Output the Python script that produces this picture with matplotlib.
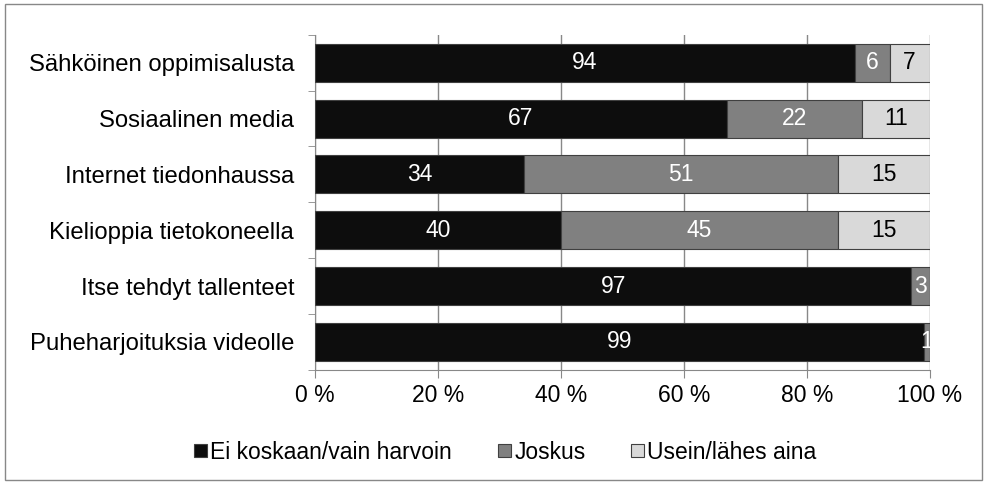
import matplotlib
matplotlib.use('Agg')
import numpy as np
import matplotlib.pyplot as plt
from matplotlib.patches import Rectangle
from matplotlib.ticker import FixedLocator

plt.rcParams['font.family'] = ['Liberation Sans', 'DejaVu Sans']

categories = ['Sähköinen oppimisalusta', 'Sosiaalinen media', 'Internet tiedonhaussa',
              'Kielioppia tietokoneella', 'Itse tehdyt tallenteet', 'Puheharjoituksia videolle']
series_names = ['Ei koskaan/vain harvoin', 'Joskus', 'Usein/lähes aina']
never = [94, 67, 34, 40, 97, 99]
sometimes = [6, 22, 51, 45, 3, 1]
often = [7, 11, 15, 15, 0, 0]

colors = ['#0d0d0d', '#808080', '#d9d9d9']
text_colors = ['white', 'white', 'black']
fs = 16.5

fig = plt.figure(figsize=(9.87, 4.84), dpi=100)
ax = fig.add_axes([0.319, 0.236, 0.623, 0.692])

data = np.array([never, sometimes, often], dtype=float)
totals = data.sum(axis=0)
shares = data / totals

y = np.arange(len(categories))
left = np.zeros(len(categories))
for i, name in enumerate(series_names):
    ax.barh(y, shares[i], left=left, height=0.68, color=colors[i],
            edgecolor='#404040', linewidth=0.8, label=name, zorder=3)
    for j in range(len(categories)):
        if data[i, j] > 0:
            ax.text(left[j] + shares[i, j] / 2, y[j], '%d' % data[i, j],
                    ha='center', va='center', color=text_colors[i], fontsize=fs, zorder=4)
    left += shares[i]

ax.set_xlim(0, 1)
ax.set_ylim(len(categories) - 0.5, -0.5)
ax.set_yticks(y)
ax.set_yticklabels(categories, fontsize=17.2)
ax.yaxis.set_minor_locator(FixedLocator(np.arange(-0.5, len(categories), 1)))
ax.tick_params(axis='y', which='major', length=0, pad=15)
ax.tick_params(axis='y', which='minor', length=5, color='#888888')
ax.set_xticks(np.linspace(0, 1, 6))
ax.set_xticklabels(['%d %%' % v for v in range(0, 101, 20)], fontsize=fs)
ax.tick_params(axis='x', length=6, color='#888888', pad=4)
ax.xaxis.grid(True, color='#888888', linewidth=1, zorder=0)
for s in ['top', 'right']:
    ax.spines[s].set_visible(False)
for s in ['left', 'bottom']:
    ax.spines[s].set_color('#888888')

ax.legend(loc='upper center', bbox_to_anchor=(0.31, -0.15), ncol=3, frameon=False,
          fontsize=fs, handlelength=0.55, handleheight=0.55, handletextpad=0.15,
          columnspacing=2.0)

fig.patches.append(Rectangle((0.005, 0.008), 0.99, 0.984, transform=fig.transFigure,
                             fill=False, edgecolor='#888888', linewidth=1))

plt.savefig('out.png', dpi=100)
